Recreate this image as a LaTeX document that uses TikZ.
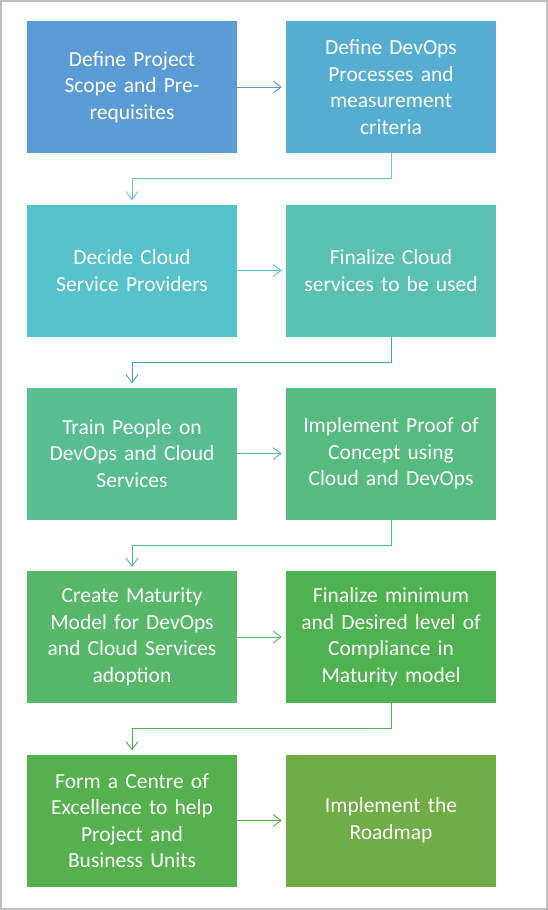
\documentclass[tikz,border=0pt]{standalone}
\usepackage{fontspec}
\setmainfont{Carlito}
\usepackage{xcolor}
\definecolor{etapeBleu}{HTML}{5B9BD5}
\definecolor{etapeAzur}{HTML}{55AED2}
\definecolor{etapeCyan}{HTML}{56C2CB}
\definecolor{etapeTurquoise}{HTML}{5AC1B0}
\definecolor{etapeMenthe}{HTML}{58BE92}
\definecolor{etapeJade}{HTML}{56BB7E}
\definecolor{etapeVert}{HTML}{56B868}
\definecolor{etapeVertVif}{HTML}{4DB24F}
\definecolor{etapePre}{HTML}{55B14E}
\definecolor{etapeOlive}{HTML}{70AD47}
\definecolor{cadreGris}{HTML}{BFBFBF}
\usepackage{tikz}
\usetikzlibrary{arrows.meta, positioning, calc}
\tikzset{
  %% ── Boxes ────────────────────────────────────────────────────────────
  %% Every step is the same flat block; only the fill walks from blue to
  %% olive down the page.
  etape/.style      = {draw=none, text=white, align=center,
                       minimum width=210pt, minimum height=132pt,
                       text width=200pt, inner sep=0pt,
                       font=\fontsize{21.5}{26.5}\selectfont},
  %%
  %% ── Arrows ───────────────────────────────────────────────────────────
  %% Thin lines, open barb, stopping just short of the next block.
  fleche/.style     = {-{Straight Barb[length=8pt, width=12pt]},
                       line width=0.9pt, shorten >=4pt},
  flecheCoude/.style = {fleche, rounded corners=0pt},
}

\begin{document}
\begin{tikzpicture}[x=1pt, y=-1pt]

\useasboundingbox (0,0) rectangle (548,910);
\draw[cadreGris, line width=2pt] (1,1) rectangle (547,909);

\node[etape, fill=etapeBleu] (s1) at (132, 87) {Define Project\\Scope and Pre-\\requisites};
\node[etape, fill=etapeAzur] (s2) at (391, 87) {Define DevOps\\Processes and\\measurement\\criteria};

\node[etape, fill=etapeCyan] (s3) at (132, 270.5) {Decide Cloud\\Service Providers};
\node[etape, fill=etapeTurquoise] (s4) at (391, 270.5) {Finalize Cloud\\services to be used};

\node[etape, fill=etapeMenthe] (s5) at (132, 453.5) {Train People on\\DevOps and Cloud\\Services};
\node[etape, fill=etapeJade] (s6) at (391, 453.5) {Implement Proof of\\Concept using\\Cloud and DevOps};

\node[etape, fill=etapeVert] (s7) at (132, 637) {Create Maturity\\Model for DevOps\\and Cloud Services\\adoption};
\node[etape, fill=etapeVertVif] (s8) at (391, 637) {Finalize minimum\\and Desired level of\\Compliance in\\Maturity model};

\node[etape, fill=etapePre] (s9) at (132, 820.5) {Form a Centre of\\Excellence to help\\Project and\\Business Units};
\node[etape, fill=etapeOlive] (s10) at (391, 820.5) {Implement the\\Roadmap};

%% across each row
\draw[fleche, draw=etapeBleu] (s1) -- (s2);
\draw[fleche, draw=etapeCyan] (s3) -- (s4);
\draw[fleche, draw=etapeMenthe] (s5) -- (s6);
\draw[fleche, draw=etapeVert] (s7) -- (s8);
\draw[fleche, draw=etapePre] (s9) -- (s10);

%% back to the left column
\draw[flecheCoude, draw=etapeAzur!80!white] (s2.south) -- ++(0,25.5) -| (s3.north);
\draw[flecheCoude, draw=etapeTurquoise!85!black] (s4.south) -- ++(0,25.5) -| (s5.north);
\draw[flecheCoude, draw=etapeJade] (s6.south) -- ++(0,25.5) -| (s7.north);
\draw[flecheCoude, draw=etapeVertVif] (s8.south) -- ++(0,25.5) -| (s9.north);

\end{tikzpicture}
\end{document}
